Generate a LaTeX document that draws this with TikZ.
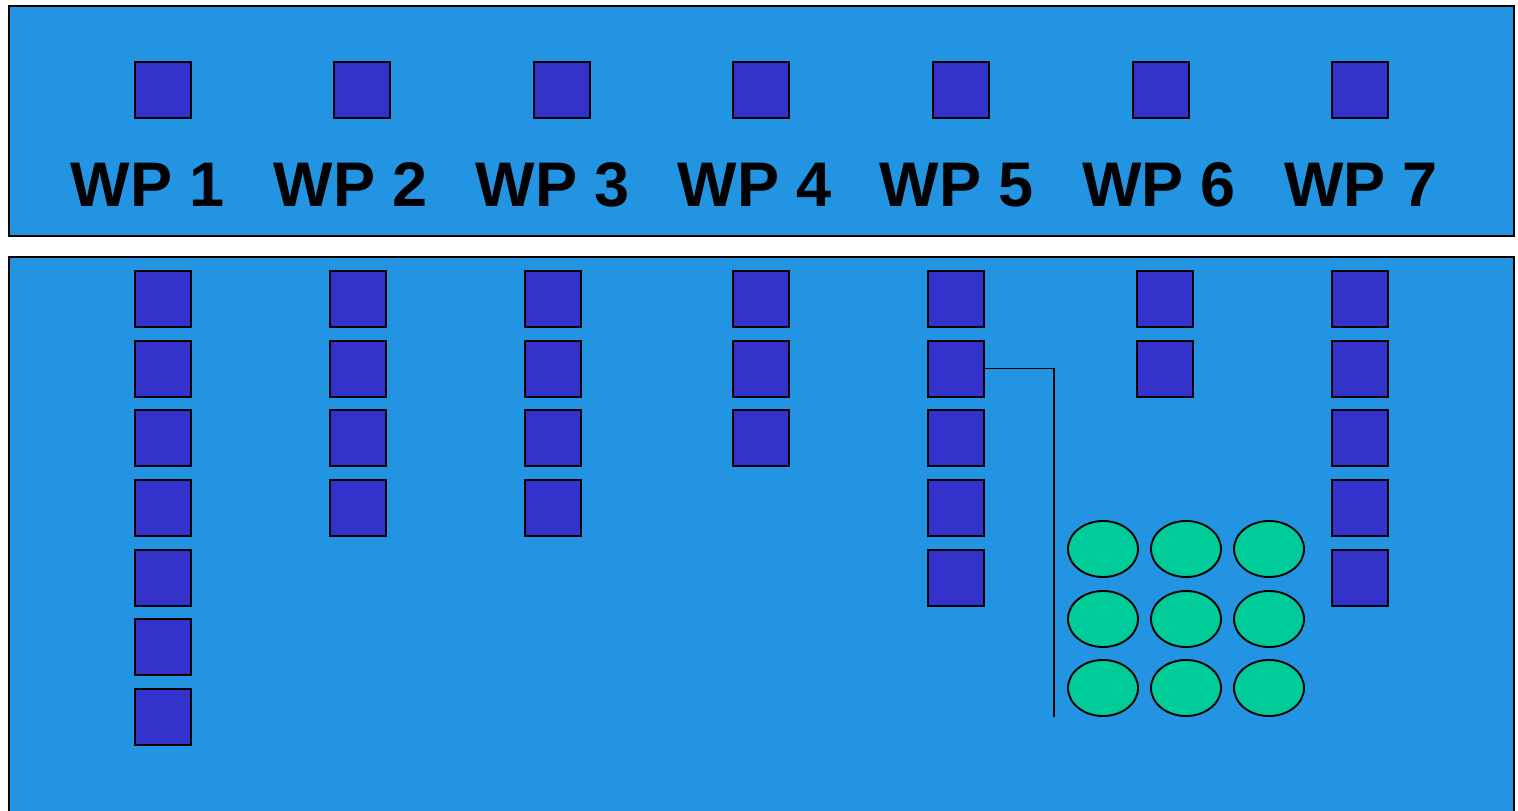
\documentclass[tikz,border=0pt]{standalone}
\usepackage{fontspec}
\setmainfont{Liberation Sans}
\usetikzlibrary{shapes.geometric}
\definecolor{panelblue}{RGB}{34,148,226}
\definecolor{boxblue}{RGB}{51,51,204}
\definecolor{ovalgreen}{RGB}{0,204,153}
\tikzset{
  panel/.style={draw=black, line width=1.8pt, fill=panelblue},
  wpbox/.style={draw=black, line width=1.9pt, fill=boxblue, minimum width=56pt, minimum height=56pt, inner sep=0pt, outer sep=0pt},
  oval/.style={ellipse, draw=black, line width=1.9pt, fill=ovalgreen, minimum width=70pt, minimum height=56pt, inner sep=0pt},
  wplabel/.style={font=\fontsize{63}{63}\selectfont\bfseries, text=black, inner sep=0pt, anchor=base},
  link/.style={draw=black, line width=1.5pt}
}
\begin{document}
\begin{tikzpicture}[x=1pt,y=-1pt]
\useasboundingbox (0,0) rectangle (1518,811);
\path[fill=white] (0,0) rectangle (1518,811);
\draw[panel] (9,6) rectangle (1514,236);
\draw[panel] (9,257) -- (9,815) -- (1514,815) -- (1514,257) -- cycle;
% top row
\foreach \i/\x/\lx in {1/163/148,2/362/351,3/562/553,4/761/755,5/961/957,6/1161/1159,7/1360/1361}{
  \node[wpbox] (t\i) at (\x,90) {};
  \node[wplabel] (l\i) at (\lx,206) {WP \i};
}
% bottom columns
\foreach \c/\x/\n in {1/163/7,2/358/4,3/553/4,4/761/3,5/956/5,6/1165/2,7/1360/5}{
  \foreach \r in {1,...,\n}{
    \pgfmathsetmacro{\yy}{299+69.67*(\r-1)}
    \node[wpbox] (b\c-\r) at (\x,\yy) {};
  }
}
% ovals
\foreach \r/\y in {1/549,2/619,3/688}{
  \foreach \c/\x in {1/1103,2/1186,3/1269}{
    \node[oval] (o\r-\c) at (\x,\y) {};
  }
}
\coordinate (lineend) at (1054,717);
\draw[link] (b5-2.east) -| (lineend);
\end{tikzpicture}
\end{document}
